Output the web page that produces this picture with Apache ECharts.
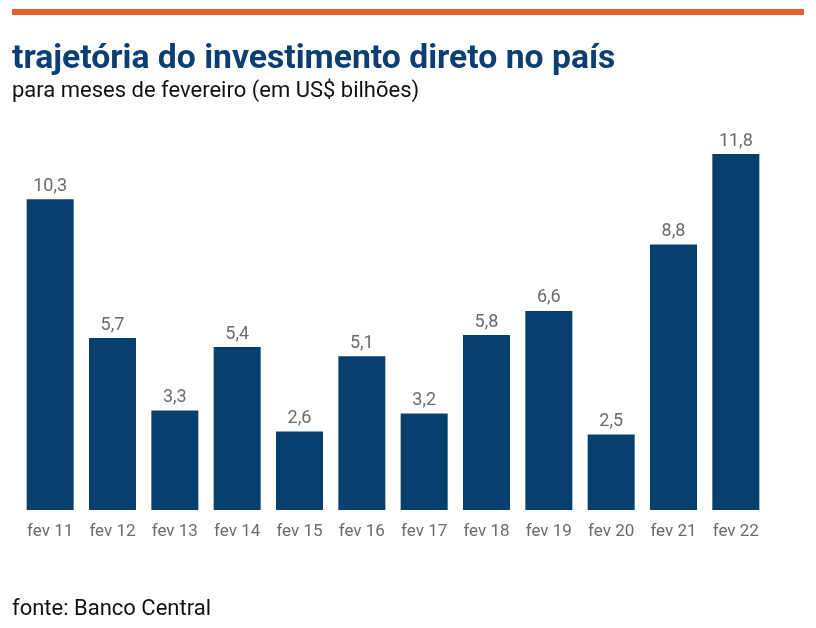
<!DOCTYPE html>
<html>
<head>
<meta charset="utf-8">
<script src="https://cdn.jsdelivr.net/npm/echarts@6/dist/echarts.min.js"></script>
<style>
    html,body{margin:0;padding:0;background:#fff;}
    #chart{width:816px;height:628px;}
</style>
</head>
<body>
<div id="chart"></div>
<script>
    // dados: investimento direto no país, meses de fevereiro (US$ bilhões)
    var categorias = ['fev 11','fev 12','fev 13','fev 14','fev 15','fev 16','fev 17','fev 18','fev 19','fev 20','fev 21','fev 22'];
    var valores = [10.3, 5.7, 3.3, 5.4, 2.6, 5.1, 3.2, 5.8, 6.6, 2.5, 8.8, 11.8];

    var chart = echarts.init(document.getElementById('chart'));
    var option = {
        animation:false,
        backgroundColor:'#fff',
        graphic:[
            {type:'rect', left:12, top:9, shape:{width:792, height:6}, style:{fill:'#E8622F'}},
            {type:'text', left:12, top:43, style:{
                text:'trajetória do investimento direto no país',
                font:'bold 33.7px Roboto', fill:'#0B3F73'
            }},
            {type:'text', left:12, top:80, style:{
                text:'para meses de fevereiro (em US$ bilhões)',
                font:'22px Roboto', fill:'#111'
            }},
            {type:'text', left:12, top:598, style:{
                text:'fonte: Banco Central',
                font:'22px Roboto', fill:'#111'
            }}
        ],
        grid:{
            left:19,
            right:49,
            top:148,
            bottom:118
        },
        xAxis:{
            type:'category',
            data:categorias,
            axisLine:{show:false},
            axisTick:{show:false},
            axisLabel:{
                margin:13,
                color:'#6b6b6b',
                fontSize:17,
                fontFamily:'Roboto'
            }
        },
        yAxis:{
            type:'value',
            min:0,
            max:12,
            show:false,
            splitLine:{show:false}
        },
        series:[{
            type:'bar',
            data:valores,
            barWidth:47,
            itemStyle:{color:'#07406F'},
            label:{
                show:true,
                position:'top',
                distance:4,
                color:'#6b6b6b',
                fontSize:18,
                fontFamily:'Roboto',
                formatter:function(p){
                    return p.value.toFixed(1).replace('.', ',');
                }
            }
        }]
    };
    chart.setOption(option);
    window.addEventListener('resize', chart.resize);
</script>
</body>
</html>
